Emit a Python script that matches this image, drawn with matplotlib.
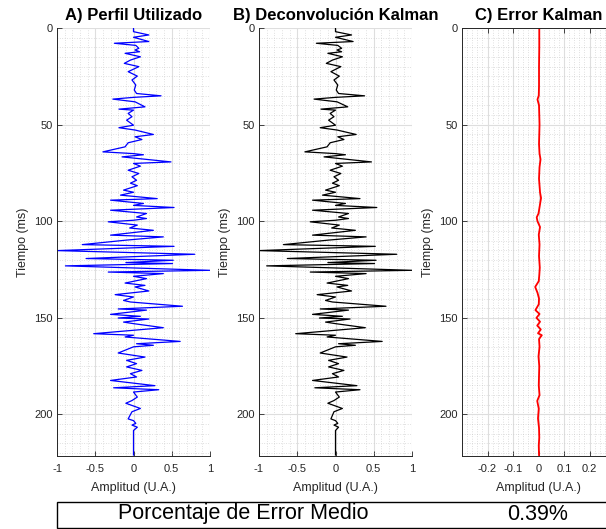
import matplotlib
matplotlib.use("Agg")
import matplotlib.pyplot as plt
from matplotlib.ticker import MultipleLocator, FixedLocator, FuncFormatter
from matplotlib.patches import Rectangle

plt.rcParams["font.family"] = ["Liberation Sans", "DejaVu Sans"]
plt.rcParams["axes.unicode_minus"] = False

# ---------------------------------------------------------------------------
# Data
# ---------------------------------------------------------------------------
tiempo = [
    0, 1.9, 3.6, 4.8, 7.0, 7.9, 9.0, 10.5, 11.4, 12.3,
    13.1, 14.9, 16.6, 18.3, 20.0, 22.6, 24.9, 26.9, 29.5, 32.1,
    33.9, 35.1, 35.9, 36.8, 38.2, 40.8, 42.0, 42.5, 44.2, 45.9,
    47.7, 50.3, 51.6, 52.8, 55.1, 56.3, 57.7, 59.4, 61.5, 64.1,
    65.0, 65.6, 66.7, 69.3, 70.1, 71.5, 73.6, 75.3, 77.0, 78.8,
    80.3, 81.6, 83.9, 85.0, 86.5, 88.3, 89.1, 90.8, 91.8, 92.9,
    94.3, 96.0, 97.8, 98.6, 99.5, 100.3, 102.0, 103.5, 104.7, 107.2,
    108.1, 109.8, 112.1, 113.0, 115.2, 117.1, 119.3, 120.2, 121.4, 121.9,
    123.1, 125.4, 126.3, 127.1, 128.5, 129.7, 132.0, 133.2, 134.0, 136.1,
    138.0, 139.2, 141.0, 141.8, 144.0, 145.4, 146.0, 148.2, 149.2, 150.1,
    150.6, 152.2, 153.0, 155.1, 158.2, 159.0, 159.9, 162.2, 163.4, 164.2,
    165.0, 168.2, 170.3, 172.0, 173.7, 175.4, 177.2, 178.9, 180.6, 182.4,
    185.1, 186.2, 187.2, 188.4, 191.0, 192.8, 194.2, 196.9, 198.6, 202.3,
    203.2, 204.6, 205.5, 206.6, 208.3, 221.0,
]

perfil = [
    0.00, 0.00, 0.20, 0.00, 0.20, -0.25, 0.03, 0.07, 0.02, 0.08,
    -0.11, 0.09, -0.04, -0.12, 0.07, -0.07, 0.05, -0.02, 0.03, 0.01,
    0.04, 0.36, 0.00, -0.27, 0.02, 0.15, -0.19, 0.00, -0.07, -0.02,
    -0.09, 0.00, -0.19, 0.02, 0.26, 0.02, 0.11, -0.07, -0.11, -0.40,
    0.00, 0.13, -0.15, 0.49, 0.00, 0.09, -0.07, 0.07, -0.02, 0.04,
    -0.04, 0.05, -0.13, 0.00, -0.17, 0.31, -0.30, 0.13, 0.00, 0.53,
    -0.30, 0.17, 0.04, 0.17, 0.00, -0.33, 0.05, -0.05, 0.26, -0.30,
    0.39, -0.10, -0.67, 0.53, -1.00, 0.80, -0.62, 0.52, -0.10, 0.51,
    -0.89, 1.00, -0.33, 0.39, 0.00, 0.17, -0.11, 0.15, 0.02, 0.20,
    -0.24, 0.00, -0.13, -0.04, 0.64, -0.20, 0.17, -0.30, 0.09, -0.20,
    0.20, -0.13, 0.00, 0.39, -0.52, 0.00, -0.11, 0.61, 0.04, 0.26,
    0.00, -0.20, 0.15, -0.09, 0.04, -0.09, 0.11, -0.04, 0.04, -0.30,
    0.28, -0.26, 0.33, 0.00, 0.05, -0.02, -0.10, 0.09, -0.02, -0.07,
    0.00, 0.03, -0.02, 0.05, 0.00, 0.00,
]

kalman = [
    0.00, 0.00, 0.21, 0.00, 0.23, -0.25, 0.03, 0.08, 0.02, 0.08,
    -0.10, 0.09, -0.04, -0.12, 0.07, -0.06, 0.05, -0.02, 0.03, 0.01,
    0.04, 0.38, 0.00, -0.28, 0.02, 0.16, -0.19, 0.00, -0.07, -0.02,
    -0.09, 0.00, -0.20, 0.02, 0.27, 0.03, 0.11, -0.07, -0.11, -0.40,
    0.00, 0.13, -0.15, 0.47, 0.00, 0.09, -0.07, 0.07, -0.02, 0.04,
    -0.04, 0.05, -0.13, 0.00, -0.17, 0.32, -0.30, 0.13, 0.00, 0.54,
    -0.30, 0.17, 0.04, 0.17, 0.00, -0.33, 0.05, -0.05, 0.26, -0.30,
    0.40, -0.10, -0.68, 0.52, -1.00, 0.80, -0.63, 0.53, -0.10, 0.51,
    -0.90, 1.00, -0.33, 0.40, 0.00, 0.17, -0.11, 0.16, 0.02, 0.21,
    -0.24, 0.00, -0.13, -0.04, 0.66, -0.20, 0.17, -0.30, 0.09, -0.21,
    0.19, -0.13, 0.00, 0.39, -0.52, 0.00, -0.11, 0.61, 0.04, 0.26,
    0.00, -0.20, 0.15, -0.09, 0.04, -0.09, 0.11, -0.04, 0.04, -0.30,
    0.28, -0.27, 0.32, 0.00, 0.05, -0.02, -0.10, 0.09, -0.02, -0.06,
    0.00, 0.03, -0.02, 0.04, 0.00, 0.00,
]

tiempo_err = [
    0, 10, 20, 30, 35, 37, 40, 45, 50, 55,
    60, 65, 68, 72, 78, 85, 88, 92, 96, 98,
    100, 103, 107, 112, 118, 124, 128, 131, 134, 137,
    140, 143, 146, 148, 150, 152, 154, 156, 158, 159,
    161, 165, 170, 175, 180, 185, 190, 193, 197, 202,
    207, 212, 216, 221,
]
error = [
    0.003, 0.003, 0.002, 0.002, 0.001, -0.004, 0.002, 0.003, 0.004, 0.003,
    0.002, 0.004, 0.008, 0.004, 0.002, 0.006, 0.010, 0.005, 0.000, -0.007,
    -0.004, 0.006, 0.001, 0.004, 0.002, 0.005, 0.003, 0.001, -0.013, -0.004,
    0.002, 0.001, -0.012, 0.004, -0.008, 0.006, -0.005, 0.009, -0.002, 0.013,
    0.002, 0.004, 0.000, 0.003, 0.002, 0.001, 0.004, -0.005, 0.001, -0.002,
    0.002, 0.003, 0.001, 0.002,
]

ticks_ab = [-1, -0.5, 0, 0.5, 1]
ticks_c = [-0.2, -0.1, 0, 0.1, 0.2]
error_medio = "0.39%"

# ---------------------------------------------------------------------------
# Figure
# ---------------------------------------------------------------------------
W, H = 606, 529
fig = plt.figure(figsize=(W / 100, H / 100), dpi=100)

AX_TOP, AX_BOT, AX_W = 28, 456, 153
TXT = "#262626"


def make_axes(left_px):
    return fig.add_axes([left_px / W, 1 - AX_BOT / H, AX_W / W, (AX_BOT - AX_TOP) / H])


def style(ax, xlim, xticks, xmin, title, box_top=False):
    ax.set_xlim(*xlim)
    ax.set_ylim(221.5, 0)
    ax.xaxis.set_major_locator(FixedLocator(xticks))
    ax.xaxis.set_minor_locator(MultipleLocator(xmin))
    ax.yaxis.set_major_locator(MultipleLocator(50))
    ax.yaxis.set_minor_locator(MultipleLocator(5))
    ax.xaxis.set_major_formatter(FuncFormatter(lambda v, p: f"{v:g}"))
    ax.grid(which="major", color="#dedede", linewidth=0.8)
    ax.grid(which="minor", color="#c4c4c4", linestyle=(0, (1, 2.5)), linewidth=0.5)
    ax.set_axisbelow(True)
    ax.tick_params(which="major", direction="in", length=3.5, width=0.6,
                   colors=TXT, labelsize=8, top=box_top)
    ax.tick_params(axis="x", which="major", pad=5.5)
    ax.tick_params(axis="y", which="major", pad=3)
    ax.tick_params(which="minor", length=0)
    for s in ["left", "bottom"]:
        ax.spines[s].set_color(TXT)
        ax.spines[s].set_linewidth(0.7)
    ax.spines["right"].set_visible(False)
    ax.spines["top"].set_visible(box_top)
    ax.spines["top"].set_color(TXT)
    ax.spines["top"].set_linewidth(0.7)
    ax.set_xlabel("Amplitud (U.A.)", fontsize=9, color=TXT, labelpad=6)
    ax.set_ylabel("Tiempo (ms)", fontsize=9, color=TXT, labelpad=4)
    ax.set_title(title, fontsize=12, fontweight="bold", pad=6)


axA = make_axes(57)
axA.plot(perfil, tiempo, color="blue", linewidth=0.9)
style(axA, (-1, 1), ticks_ab, 0.1, "A) Perfil Utilizado")

axB = make_axes(259)
axB.plot(kalman, tiempo, color="black", linewidth=0.9)
style(axB, (-1, 1), ticks_ab, 0.1, "B) Deconvolución Kalman")

axC = make_axes(462)
axC.plot(error, tiempo_err, color="red", linewidth=1.3)
style(axC, (-0.3, 0.3), ticks_c, 0.02, "C) Error Kalman", box_top=True)

# summary table at the bottom
fig.add_artist(Rectangle((57 / W, 1 - 528 / H), (640 - 57) / W, 26 / H,
                         transform=fig.transFigure, facecolor="white",
                         edgecolor="black", linewidth=1.0))
fig.text(243 / W, 1 - 514 / H, "Porcentaje de Error Medio", fontsize=15.5,
         ha="center", va="center")
fig.text(538 / W, 1 - 514 / H, error_medio, fontsize=15.5,
         ha="center", va="center")

fig.savefig("out.png", dpi=100)
